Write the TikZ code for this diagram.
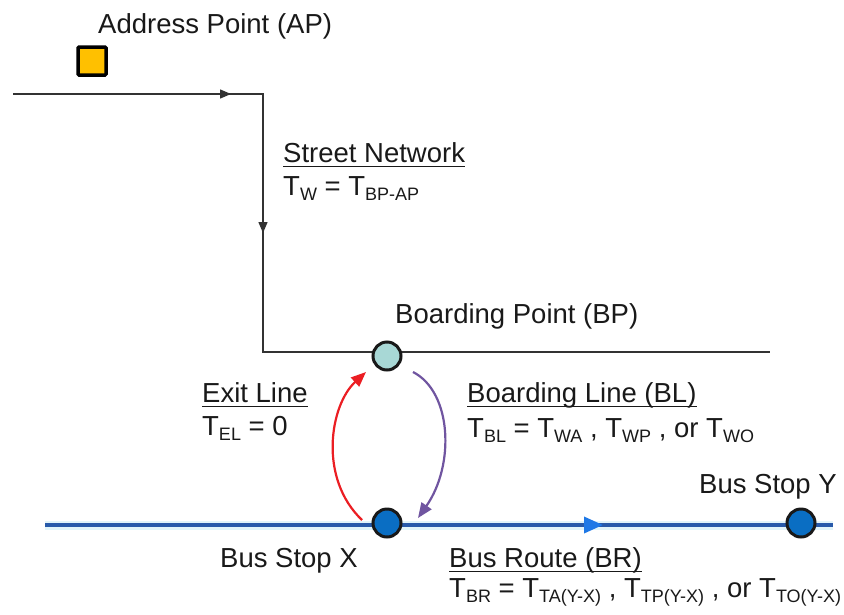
\documentclass[tikz,border=0pt]{standalone}
\usepackage{fontspec}
\setmainfont{Liberation Sans}
\usetikzlibrary{arrows.meta,decorations.markings}
\definecolor{apfill}{RGB}{255,192,0}
\definecolor{bpfill}{RGB}{168,216,214}
\definecolor{stopfill}{RGB}{10,110,195}
\definecolor{routeblue}{RGB}{40,90,170}
\definecolor{routehalo}{RGB}{225,244,250}
\definecolor{arrowblue}{RGB}{30,120,230}
\definecolor{exitred}{RGB}{235,30,35}
\definecolor{boardpurple}{RGB}{112,85,160}
\definecolor{streetgray}{RGB}{50,50,50}
\newcommand\myul[1]{\leavevmode\setbox0\hbox{#1}\rlap{\rule[-5pt]{\wd0}{1.5pt}}\box0}
\newcommand\lowr[1]{\raisebox{-5pt}{\fontsize{18}{18}\selectfont #1}}
\tikzset{
  lbl/.style={anchor=base west, inner sep=0pt, font=\fontsize{27.5}{32}\selectfont, text=black!90},
  street/.style={draw=streetgray, line width=1.4pt},
  stopnode/.style={circle, minimum size=28pt, inner sep=0pt, line width=3pt, draw=black!90, fill=stopfill},
  bpnode/.style={circle, minimum size=28pt, inner sep=0pt, line width=3pt, draw=black!90, fill=bpfill},
  apnode/.style={rectangle, minimum size=28pt, inner sep=0pt, line width=3.5pt, draw=black, fill=apfill, rounded corners=1pt},
  exitln/.style={draw=exitred, line width=2.2pt, -{Triangle[length=15pt,width=12pt]}},
  boardln/.style={draw=boardpurple, line width=2.2pt, -{Triangle[length=15pt,width=12pt]}},
}
\begin{document}
\begin{tikzpicture}[x=1pt,y=-1pt]
\useasboundingbox (0,0) rectangle (844,614);
% street network
\coordinate (s0) at (13,94);
\coordinate (s1) at (263,94);
\coordinate (s2) at (263,352);
\coordinate (s3) at (770,352);
\draw[street, postaction={decorate}, decoration={markings,
   mark=at position 218pt with {\arrow{Triangle[length=11pt,width=9pt]}},
   mark=at position 389pt with {\arrow{Triangle[length=11pt,width=9pt]}}}]
   (s0) -- (s1) -- (s2) -- (s3);
% bus route
\coordinate (r0) at (45,525);
\coordinate (r1) at (833,525);
\draw[routehalo, line width=9pt] (r0) -- (r1);
\draw[routeblue, line width=3.5pt, postaction={decorate}, decoration={markings,
   mark=at position 558pt with {\arrow[arrowblue]{Triangle[length=19pt,width=16pt]}}}]
   (r0) -- (r1);
% nodes
\node[apnode] (ap) at (92,61) {};
\node[bpnode] (bp) at (387,356) {};
\node[stopnode] (bx) at (387,523) {};
\node[stopnode] (by) at (801,523) {};
% exit and boarding lines
\draw[exitln] ([shift={(-25,-3)}]bx.center) .. controls ([shift={(-69,-45)}]bx.center) and ([shift={(-57,49)}]bp.center) .. ([shift={(-21,16)}]bp.center);
\draw[boardln] ([shift={(26,16)}]bp.center) .. controls ([shift={(65,36)}]bp.center) and ([shift={(68,-58)}]bx.center) .. ([shift={(31,-5)}]bx.center);
% labels
\node[lbl] (aplbl) at (98,33) {Address Point (AP)};
\node[lbl] (sn) at (283,162) {\myul{Street Network}};
\node[lbl] (snf) at (283,195) {T\lowr{W} = T\lowr{BP-AP}};
\node[lbl] (bplbl) at (395,323) {Boarding Point (BP)};
\node[lbl] (el) at (202,402) {\myul{Exit Line}};
\node[lbl] (elf) at (202,435) {T\lowr{EL} = 0};
\node[lbl] (bl) at (467,402) {\myul{Boarding Line (BL)}};
\node[lbl] (blf) at (467,437) {T\lowr{BL} = T\lowr{WA} , T\lowr{WP} , or T\lowr{WO}};
\node[lbl] (bylbl) at (699,493) {Bus Stop Y};
\node[lbl] (bxlbl) at (220,567) {Bus Stop X};
\node[lbl] (br) at (449,567) {\myul{Bus Route (BR)}};
\node[lbl] (brf) at (449,597) {T\lowr{BR} = T\lowr{TA(Y-X)} , T\lowr{TP(Y-X)} , or T\lowr{TO(Y-X)}};
\end{tikzpicture}
\end{document}
